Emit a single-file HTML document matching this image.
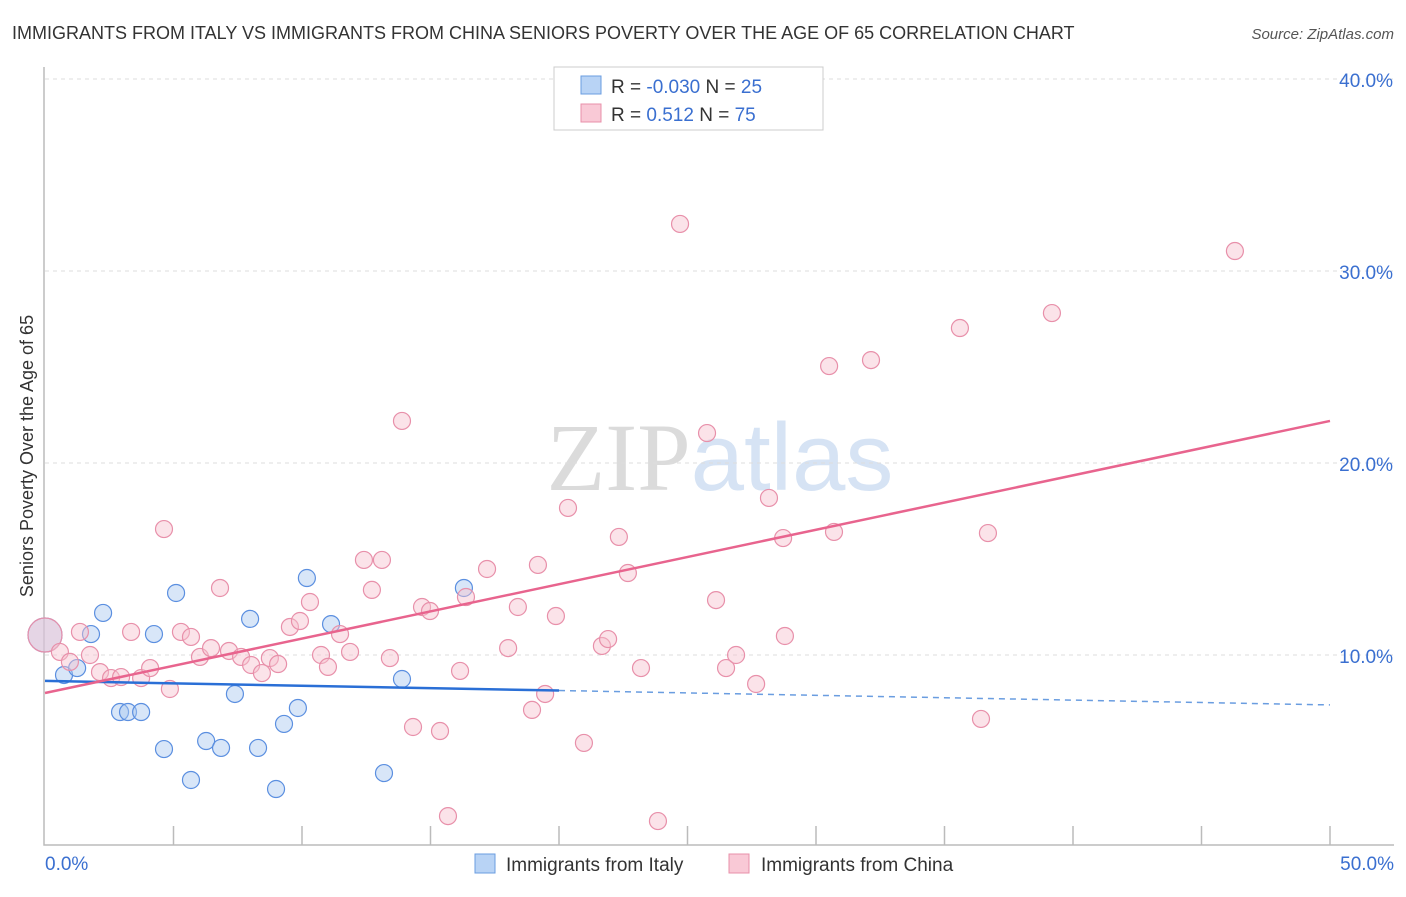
<!DOCTYPE html>
<html><head><meta charset="utf-8"><style>
body{margin:0;background:#fff;font-family:"Liberation Sans",sans-serif;}
svg text{font-family:"Liberation Sans",sans-serif;}
</style></head><body>
<svg id="chart" width="1406" height="892" xmlns="http://www.w3.org/2000/svg">
<text x="12" y="39" font-size="18" fill="#333">IMMIGRANTS FROM ITALY VS IMMIGRANTS FROM CHINA SENIORS POVERTY OVER THE AGE OF 65 CORRELATION CHART</text>
<text x="1394" y="39" font-size="15" fill="#555" text-anchor="end" font-style="italic">Source: ZipAtlas.com</text>
<text x="720" y="490" font-size="96" text-anchor="middle" fill="#ddd" opacity="0.7"><tspan font-family="Liberation Serif" fill="#ccc">ZIP</tspan><tspan fill="#c5d8f0">atlas</tspan></text>
<g id="grid"></g>
<g id="axes"></g>
<g id="marks"></g>
<text transform="translate(33,456) rotate(-90)" font-size="18" fill="#333" text-anchor="middle">Seniors Poverty Over the Age of 65</text>
<text x="45" y="870" font-size="19" fill="#3a6fd0">0.0%</text>
<text x="1394" y="870" font-size="19" fill="#3a6fd0" text-anchor="end">50.0%</text>
<g>
<rect x="554" y="67" width="269" height="63" fill="#fff" stroke="#ccc"/>
<rect x="581" y="76" width="20" height="18" fill="#b8d3f5" stroke="#6a9de0"/>
<rect x="581" y="104" width="20" height="18" fill="#f9c9d6" stroke="#e890aa"/>
<text x="611" y="93" font-size="19" fill="#333">R = <tspan fill="#3a6fd0">-0.030</tspan>   N = <tspan fill="#3a6fd0">25</tspan></text>
<text x="611" y="121" font-size="19" fill="#333">R =    <tspan fill="#3a6fd0">0.512</tspan>   N = <tspan fill="#3a6fd0">75</tspan></text>
</g>
<g>
<rect x="475" y="854" width="20" height="19" fill="#b8d3f5" stroke="#6a9de0"/>
<text x="506" y="871" font-size="19" fill="#333">Immigrants from Italy</text>
<rect x="729" y="854" width="20" height="19" fill="#f9c9d6" stroke="#e890aa"/>
<text x="761" y="871" font-size="19" fill="#333">Immigrants from China</text>
</g>
</svg>
<script>
const italyX=[0,0.74,1.25,1.79,2.26,2.92,3.23,3.74,4.24,4.63,5.10,5.68,6.27,6.85,7.39,7.98,8.29,8.99,9.30,9.84,10.19,11.13,13.19,13.89,16.30];
const italyY=[11.04,8.96,9.32,11.09,12.19,7.03,7.03,7.03,11.09,5.10,13.23,3.49,5.52,5.16,7.97,11.88,5.16,3.02,6.41,7.24,14.01,11.61,3.85,8.75,13.49];
const chinaX=[0,0.58,0.97,1.36,1.75,2.14,2.57,2.96,3.35,3.74,4.09,4.63,4.86,5.29,5.68,6.03,6.46,6.81,7.16,7.63,8.02,8.44,8.75,9.07,9.53,9.92,10.31,10.74,11.01,11.48,11.87,12.41,12.72,13.11,13.42,13.89,14.32,14.67,14.98,15.37,15.68,16.15,16.38,17.20,18.02,18.40,18.95,19.18,19.46,19.88,20.35,20.97,21.67,21.91,22.33,22.68,23.19,23.85,24.71,25.76,26.11,26.50,26.89,27.67,28.17,28.72,28.79,30.51,30.70,32.14,35.60,36.42,36.69,39.18,46.30];
const chinaY=[11.04,10.16,9.64,11.20,10.00,9.11,8.80,8.85,11.20,8.80,9.32,16.56,8.23,11.20,10.94,9.90,10.36,13.49,10.21,9.90,9.48,9.06,9.84,9.53,11.46,11.77,12.76,10.00,9.38,11.09,10.16,14.95,13.39,14.95,9.84,22.19,6.25,12.50,12.29,6.04,1.61,9.17,13.02,14.48,10.36,12.50,7.14,14.69,7.97,12.03,17.66,5.42,10.47,10.83,16.15,14.27,9.32,1.35,32.45,21.56,12.86,9.32,10.00,8.49,18.18,16.09,10.99,25.05,16.41,25.36,27.03,6.67,16.35,27.81,31.04];
const yTicks=[10,20,30,40];
const yTickLabels=["10.0%","20.0%","30.0%","40.0%"];
const italyTrend=[8.65,7.40];const italySolidEnd=20;
const chinaTrend=[8.02,22.19];
const NS="http://www.w3.org/2000/svg";
const X=v=>45+v*25.7, Y=v=>847-v*19.2;
function mk(t,a,p){const e=document.createElementNS(NS,t);for(const k in a)e.setAttribute(k,a[k]);p.appendChild(e);return e;}
const grid=document.getElementById('grid'),axes=document.getElementById('axes'),marks=document.getElementById('marks');
yTicks.forEach((t,i)=>{
 const l=mk('line',{x1:45,x2:1394,y1:Y(t),y2:Y(t),stroke:'#ddd','stroke-dasharray':'4,4'},grid);
 
 
 const tx=mk('text',{x:1393,y:Y(t)+8,'font-size':19,fill:'#3a6fd0','text-anchor':'end'},grid);
 tx.textContent=yTickLabels[i];
 
 
});
const ax=mk('path',{d:'M44 67 V845 H1394',fill:'none',stroke:'#bbb','stroke-width':1.5},axes);


for(let k=1;k<=10;k++){const t=mk('line',{x1:X(k*5),x2:X(k*5),y1:826,y2:845,stroke:'#bbb','stroke-width':1.5},axes);
 
 }
function dots(xs,ys,fill,stroke,name){xs.forEach((x,i)=>{const c=mk('circle',{cx:X(x),cy:Y(ys[i]),r:i==0?17:8.5,fill:fill,'fill-opacity':0.45,stroke:stroke,'stroke-width':1.2},marks);
 
 });}
dots(italyX,italyY,'#a9c8f0','#5b8fe0','italy-point');
dots(chinaX,chinaY,'#f7c0cf','#e890aa','china-point');
const it=(v)=>italyTrend[0]+(italyTrend[1]-italyTrend[0])*v/50;
let l1=mk('line',{x1:X(0),y1:Y(it(0)),x2:X(italySolidEnd),y2:Y(it(italySolidEnd)),stroke:'#2a6fd6','stroke-width':2.5},marks);


let l2=mk('line',{x1:X(italySolidEnd),y1:Y(it(italySolidEnd)),x2:X(50),y2:Y(it(50)),stroke:'#6a9de0','stroke-width':1.5,'stroke-dasharray':'6,5'},marks);


let l3=mk('line',{x1:X(0),y1:Y(chinaTrend[0]),x2:X(50),y2:Y(chinaTrend[1]),stroke:'#e8648e','stroke-width':2.5},marks);


</script>
</body></html>
